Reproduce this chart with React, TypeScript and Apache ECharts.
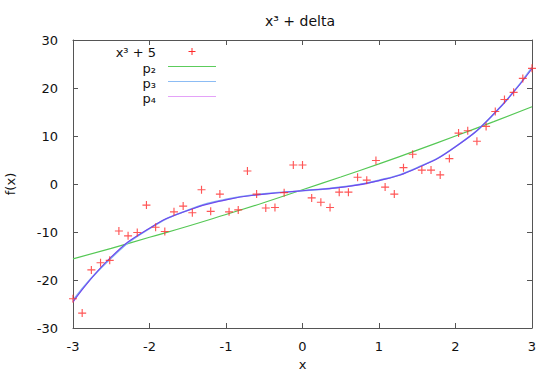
import React, { useEffect, useRef } from "react";
import * as echarts from "echarts";

const TITLE = "x³ + delta";
const X_NAME = "x";
const Y_NAME = "f(x)";
const NAME_DATA = "x³ + 5";
const NAME_P2 = "p₂";
const NAME_P3 = "p₃";
const NAME_P4 = "p₄";

// sampled x positions of the noisy data
const dataX = [
  -3.0, -2.88, -2.76, -2.64, -2.52, -2.4, -2.28, -2.16, -2.04, -1.92,
  -1.8, -1.68, -1.56, -1.44, -1.32, -1.2, -1.08, -0.96, -0.84, -0.72,
  -0.6, -0.48, -0.36, -0.24, -0.12, 0.0, 0.12, 0.24, 0.36, 0.48,
  0.6, 0.72, 0.84, 0.96, 1.08, 1.2, 1.32, 1.44, 1.56, 1.68,
  1.8, 1.92, 2.04, 2.16, 2.28, 2.4, 2.52, 2.64, 2.76, 2.88, 3.0,
];
const dataY = [
  -23.9, -26.9, -17.9, -16.4, -15.9, -9.8, -10.8, -10.1, -4.4, -9.0,
  -9.9, -5.8, -4.6, -6.0, -1.2, -5.7, -2.1, -5.8, -5.4, 2.7,
  -2.1, -5.0, -4.9, -1.8, 3.95, 3.95, -2.9, -3.8, -4.9, -1.7,
  -1.7, 1.4, 0.8, 4.9, -0.65, -2.1, 3.4, 6.2, 2.9, 2.9,
  1.9, 5.3, 10.6, 11.1, 8.9, 12.0, 15.1, 17.6, 19.1, 22.0, 24.1,
];

// fitted curves read at these x positions
const fitX = [-3, -2.5, -2, -1.5, -1, -0.5, 0, 0.5, 1, 1.5, 2, 2.5, 3];
const p2Y = [-15.6, -13.4, -11.1, -8.8, -6.35, -3.85, -1.2, 1.45, 4.2, 7.05, 10.0, 13.0, 16.1];
const p3Y = [-24.2, -15.4, -9.3, -5.45, -3.2, -2.05, -1.4, -0.65, 0.75, 3.4, 7.8, 14.55, 24.3];
const p4Y = [-24.6, -15.2, -9.2, -5.5, -3.3, -2.1, -1.4, -0.7, 0.7, 3.35, 7.75, 14.6, 24.0];

const xTicks = { min: -3, max: 3, interval: 1 };
const yTicks = { min: -30, max: 30, interval: 10 };

const FONT = "DejaVu Sans";
const PLUS = "path://M3,0h1v3h3v1h-3v3h-1v-3h-3v-1h3z";

const COLOR_DATA = "#ff2a2a";
const COLOR_P2 = "#55c855";
const COLOR_P3 = "#80b0f2";
const COLOR_P4 = "#7048ee";
const LEGEND_P2 = "#5ccc5c";
const LEGEND_P3 = "#8cbcf4";
const LEGEND_P4 = "#e4a2f8";

export default function App() {
  const ref = useRef<HTMLDivElement>(null);
  useEffect(() => {
    if (!ref.current) return;
    document.body.style.margin = "0";
    document.body.style.overflow = "hidden";
    const chart = echarts.init(ref.current, null, { renderer: "svg" });
    const pairs = (xs: number[], ys: number[]) => xs.map((x, i) => [x, ys[i]]);
    const axisLine = { show: true, onZero: false, lineStyle: { color: "#555", width: 1 } };
    const tick = { show: true, inside: true, length: 5, lineStyle: { color: "#555" } };
    const txt = { fontFamily: FONT, fontSize: 13, fill: "#111" };

    const keyText = (y: number, text: string) => ({
      type: "text",
      x: 156,
      y,
      style: { ...txt, text, textAlign: "right", textVerticalAlign: "middle" },
    });
    const keyLine = (y: number, stroke: string) => ({
      type: "line",
      shape: { x1: 168, y1: y, x2: 216, y2: y },
      style: { stroke, lineWidth: 1.2 },
    });

    chart.setOption({
      animation: false,
      backgroundColor: "#fff",
      title: {
        text: TITLE,
        left: 300,
        textAlign: "center",
        top: 14,
        padding: 0,
        textStyle: { fontFamily: FONT, fontSize: 14, fontWeight: "normal", color: "#111" },
      },
      grid: { left: 73, right: 5, top: 40, bottom: 44, outerBoundsMode: "none", containLabel: false },
      graphic: [
        keyText(52, NAME_DATA),
        { type: "line", shape: { x1: 188.5, y1: 51.5, x2: 195.5, y2: 51.5 }, style: { stroke: COLOR_DATA, lineWidth: 1 } },
        { type: "line", shape: { x1: 192, y1: 48, x2: 192, y2: 55 }, style: { stroke: COLOR_DATA, lineWidth: 1 } },
        keyText(68, NAME_P2),
        keyLine(66.5, LEGEND_P2),
        keyText(83, NAME_P3),
        keyLine(81.5, LEGEND_P3),
        keyText(98, NAME_P4),
        keyLine(96.5, LEGEND_P4),
      ],
      xAxis: [
        {
          type: "value",
          ...xTicks,
          position: "bottom",
          name: X_NAME,
          nameLocation: "middle",
          nameGap: 29,
          nameTextStyle: { fontFamily: FONT, fontSize: 13, color: "#111" },
          axisLine,
          axisTick: tick,
          splitLine: { show: false },
          axisLabel: { fontFamily: FONT, fontSize: 13, color: "#111", margin: 12 },
        },
        {
          type: "value",
          ...xTicks,
          position: "top",
          axisLine,
          axisTick: tick,
          splitLine: { show: false },
          axisLabel: { show: false },
        },
      ],
      yAxis: [
        {
          type: "value",
          ...yTicks,
          position: "left",
          name: Y_NAME,
          nameLocation: "middle",
          nameGap: 56,
          nameTextStyle: { fontFamily: FONT, fontSize: 13, color: "#111" },
          axisLine,
          axisTick: tick,
          splitLine: { show: false },
          axisLabel: { fontFamily: FONT, fontSize: 13, color: "#111", margin: 15, padding: [5, 0, 0, 0] },
        },
        {
          type: "value",
          ...yTicks,
          position: "right",
          axisLine,
          axisTick: tick,
          splitLine: { show: false },
          axisLabel: { show: false },
        },
      ],
      series: [
        { name: NAME_P2, type: "line", data: pairs(fitX, p2Y), smooth: true, symbol: "none", lineStyle: { color: COLOR_P2, width: 1.2 } },
        { name: NAME_P3, type: "line", data: pairs(fitX, p3Y), smooth: true, symbol: "none", lineStyle: { color: COLOR_P3, width: 1.6 } },
        { name: NAME_P4, type: "line", data: pairs(fitX, p4Y), smooth: true, symbol: "none", lineStyle: { color: COLOR_P4, width: 1.1 } },
        {
          name: NAME_DATA,
          type: "scatter",
          data: pairs(dataX, dataY),
          symbol: PLUS,
          symbolSize: 8,
          itemStyle: { color: COLOR_DATA },
          z: 5,
        },
      ],
    });
    return () => chart.dispose();
  }, []);
  return <div ref={ref} style={{ width: 537, height: 372 }} />;
}
